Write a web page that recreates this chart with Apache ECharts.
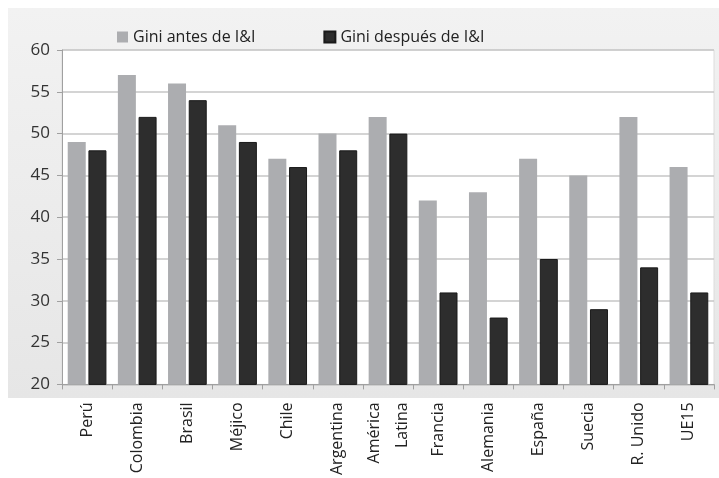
<!DOCTYPE html>
<html>
<head>
<meta charset="utf-8">
<script src="https://cdn.jsdelivr.net/npm/echarts@6/dist/echarts.min.js"></script>
<style>
  html, body { margin: 0; padding: 0; background: #fff; }
  #ec { width: 719px; height: 478px; }
</style>
</head>
<body>
<div id="ec"></div>
<script>
  // datos del gráfico
  var categories = ['Perú', 'Colombia', 'Brasil', 'Méjico', 'Chile', 'Argentina', 'América\nLatina',
    'Francia', 'Alemania', 'España', 'Suecia', 'R. Unido', 'UE15'];
  var giniAntes = [49, 57, 56, 51, 47, 50, 52, 42, 43, 47, 45, 52, 46];
  var giniDespues = [48, 52, 54, 49, 46, 48, 50, 31, 28, 35, 29, 34, 31];
  var yTicks = { min: 20, max: 60, interval: 5 };

  var ec = echarts.init(document.getElementById('ec'));
  ec.setOption({
    animation: false,
    textStyle: { fontFamily: 'Open Sans' },
    graphic: [{
      type: 'rect',
      z: -10,
      shape: { x: 8, y: 8, width: 711, height: 390 },
      style: {
        fill: new echarts.graphic.LinearGradient(0, 0, 0, 1, [
          { offset: 0, color: '#f2f2f2' },
          { offset: 1, color: '#e6e6e6' }
        ])
      }
    }],
    legend: {
      left: 112,
      top: 24,
      itemWidth: 11,
      itemHeight: 11,
      itemGap: 68,
      icon: 'rect',
      textStyle: { fontSize: 16, color: '#222', fontFamily: 'Open Sans' },
      data: ['Gini antes de I&I', 'Gini después de I&I']
    },
    grid: {
      left: 62,
      right: 5,
      top: 50,
      bottom: 92,
      show: true,
      backgroundColor: '#fff',
      borderColor: '#dcdcdc',
      borderWidth: 1
    },
    xAxis: {
      type: 'category',
      data: categories,
      axisLine: { lineStyle: { color: '#a0a0a0', width: 1 } },
      axisTick: { show: true, length: 5, lineStyle: { color: '#a0a0a0' } },
      axisLabel: {
        interval: 0,
        rotate: 90,
        margin: 18,
        fontSize: 16,
        lineHeight: 28,
        color: '#222',
        fontFamily: 'Open Sans'
      }
    },
    yAxis: {
      type: 'value',
      min: yTicks.min,
      max: yTicks.max,
      interval: yTicks.interval,
      axisLine: { show: true, lineStyle: { color: '#a0a0a0' } },
      axisTick: { show: true, length: 5, lineStyle: { color: '#a0a0a0' } },
      axisLabel: { fontSize: 17, color: '#333', margin: 12, fontFamily: 'Open Sans' },
      splitLine: { lineStyle: { color: '#c6c6c6', width: 1.5 } }
    },
    series: [
      {
        name: 'Gini antes de I&I',
        type: 'bar',
        barWidth: 18,
        barGap: '15%',
        itemStyle: { color: '#acadb0' },
        data: giniAntes
      },
      {
        name: 'Gini después de I&I',
        type: 'bar',
        barWidth: 18,
        itemStyle: { color: '#2d2d2d', borderColor: '#1a1a1a', borderWidth: 1 },
        data: giniDespues
      }
    ]
  });
  window.addEventListener('resize', ec.resize);
</script>
</body>
</html>
